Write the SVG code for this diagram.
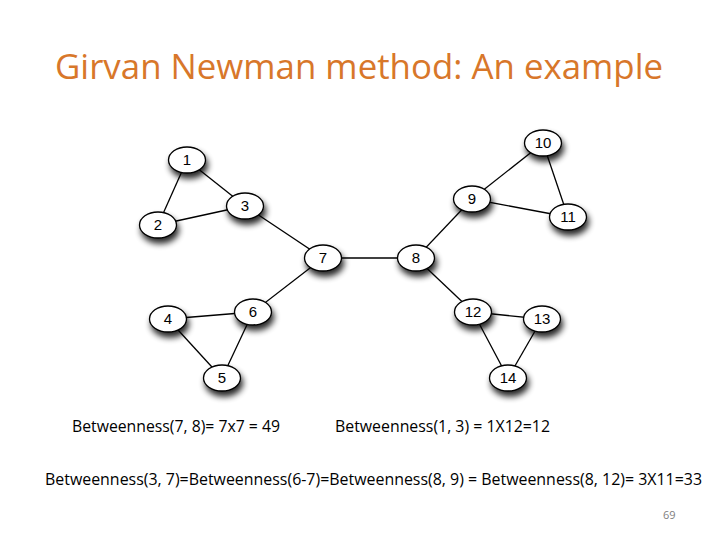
<svg xmlns="http://www.w3.org/2000/svg" width="720" height="540" viewBox="0 0 720 540">
<style>
.title{font-family:"Open Sans","Liberation Sans",sans-serif;font-size:34px;fill:#D8772A}
.lbl{font-family:"Liberation Sans",Arial,sans-serif;font-size:15px;fill:#000;text-anchor:middle}
.txt{font-family:"Open Sans","Liberation Sans",sans-serif;font-size:16px;fill:#000}
.pg{font-family:"Open Sans","Liberation Sans",sans-serif;font-size:11px;fill:#808080}
.edge{stroke:#000;stroke-width:1.3;fill:none}
.node ellipse{fill:#fff;stroke:#000;stroke-width:1.3;filter:url(#sh)}
</style>
<defs>
<filter id="sh" x="-50%" y="-50%" width="200%" height="220%">
<feGaussianBlur in="SourceAlpha" stdDeviation="3"/>
<feOffset dx="2" dy="5" result="b"/>
<feComponentTransfer><feFuncA type="linear" slope="0.85"/></feComponentTransfer>
<feMerge><feMergeNode/><feMergeNode in="SourceGraphic"/></feMerge>
</filter>
</defs>
<rect width="720" height="540" fill="#fff"/>
<text class="title" x="359" y="79" text-anchor="middle" textLength="608" lengthAdjust="spacingAndGlyphs">Girvan Newman method: An example</text>
<g id="edges">
<line class="edge" x1="187" y1="160" x2="158" y2="225"/>
<line class="edge" x1="187" y1="160" x2="245" y2="206"/>
<line class="edge" x1="158" y1="225" x2="245" y2="206"/>
<line class="edge" x1="245" y1="206" x2="323" y2="258"/>
<line class="edge" x1="323" y1="258" x2="416" y2="258"/>
<line class="edge" x1="253" y1="312" x2="323" y2="258"/>
<line class="edge" x1="168" y1="319" x2="253" y2="312"/>
<line class="edge" x1="168" y1="319" x2="222" y2="378"/>
<line class="edge" x1="253" y1="312" x2="222" y2="378"/>
<line class="edge" x1="416" y1="258" x2="472" y2="199"/>
<line class="edge" x1="472" y1="199" x2="543" y2="143"/>
<line class="edge" x1="472" y1="199" x2="568" y2="217"/>
<line class="edge" x1="543" y1="143" x2="568" y2="217"/>
<line class="edge" x1="416" y1="258" x2="473" y2="312"/>
<line class="edge" x1="473" y1="312" x2="542" y2="319"/>
<line class="edge" x1="473" y1="312" x2="508" y2="378"/>
<line class="edge" x1="542" y1="319" x2="508" y2="378"/>
</g>
<g id="n1" class="node"><ellipse cx="187" cy="160" rx="18.5" ry="13"/><text class="lbl" x="187" y="165">1</text></g>
<g id="n2" class="node"><ellipse cx="158" cy="225" rx="18.5" ry="13"/><text class="lbl" x="158" y="230">2</text></g>
<g id="n3" class="node"><ellipse cx="245" cy="206" rx="18.5" ry="13"/><text class="lbl" x="245" y="211">3</text></g>
<g id="n7" class="node"><ellipse cx="323" cy="258" rx="18.5" ry="13"/><text class="lbl" x="323" y="263">7</text></g>
<g id="n8" class="node"><ellipse cx="416" cy="258" rx="18.5" ry="13"/><text class="lbl" x="416" y="263">8</text></g>
<g id="n9" class="node"><ellipse cx="472" cy="199" rx="18.5" ry="13"/><text class="lbl" x="472" y="204">9</text></g>
<g id="n10" class="node"><ellipse cx="543" cy="143" rx="18.5" ry="13"/><text class="lbl" x="543" y="148">10</text></g>
<g id="n11" class="node"><ellipse cx="568" cy="217" rx="18.5" ry="13"/><text class="lbl" x="568" y="222">11</text></g>
<g id="n4" class="node"><ellipse cx="168" cy="319" rx="18.5" ry="13"/><text class="lbl" x="168" y="324">4</text></g>
<g id="n6" class="node"><ellipse cx="253" cy="312" rx="18.5" ry="13"/><text class="lbl" x="253" y="317">6</text></g>
<g id="n5" class="node"><ellipse cx="222" cy="378" rx="18.5" ry="13"/><text class="lbl" x="222" y="383">5</text></g>
<g id="n12" class="node"><ellipse cx="473" cy="312" rx="18.5" ry="13"/><text class="lbl" x="473" y="317">12</text></g>
<g id="n13" class="node"><ellipse cx="542" cy="319" rx="18.5" ry="13"/><text class="lbl" x="542" y="324">13</text></g>
<g id="n14" class="node"><ellipse cx="508" cy="378" rx="18.5" ry="13"/><text class="lbl" x="508" y="383">14</text></g>
<text class="txt" x="72" y="432" textLength="208" lengthAdjust="spacingAndGlyphs">Betweenness(7, 8)= 7x7 = 49</text>
<text class="txt" x="335" y="432" textLength="215" lengthAdjust="spacingAndGlyphs">Betweenness(1, 3) = 1X12=12</text>
<text class="txt" x="45" y="485" textLength="657" lengthAdjust="spacingAndGlyphs">Betweenness(3, 7)=Betweenness(6-7)=Betweenness(8, 9) = Betweenness(8, 12)= 3X11=33</text>
<text class="pg" x="663" y="519">69</text>
</svg>
